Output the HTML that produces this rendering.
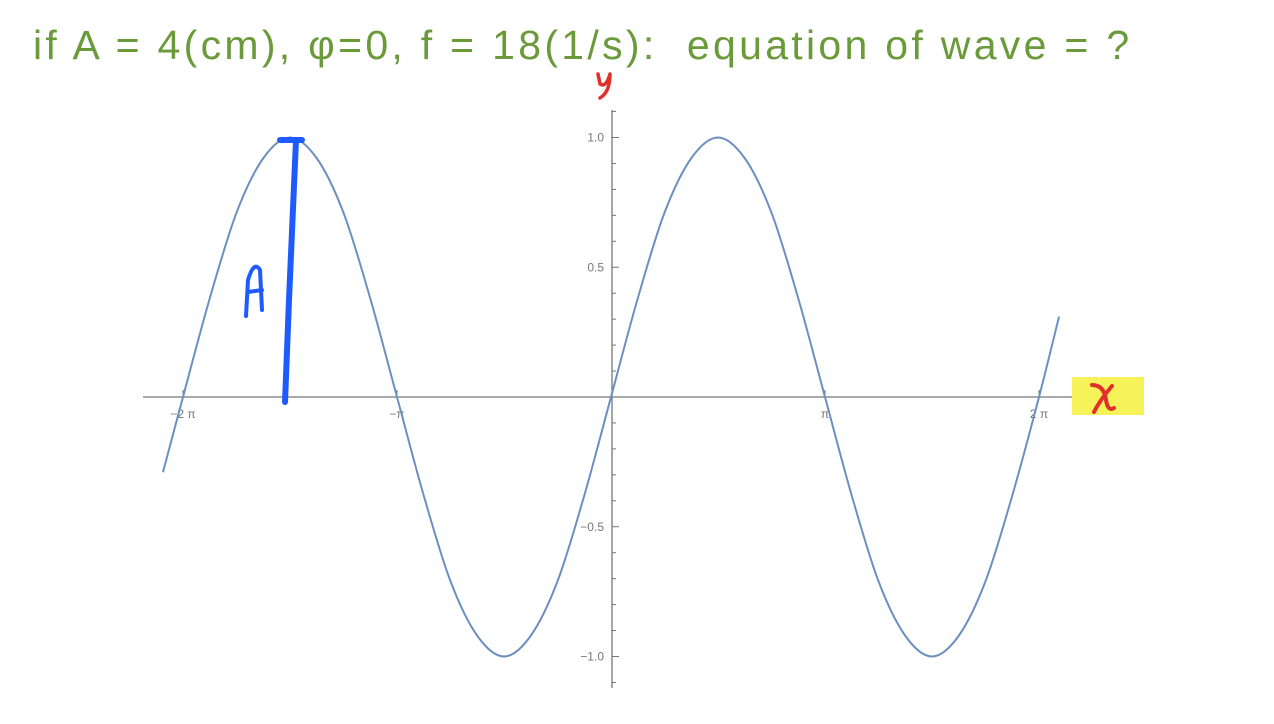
<!DOCTYPE html>
<html><head><meta charset="utf-8"><style>
body{margin:0;width:1274px;height:724px;background:#fff;overflow:hidden;font-family:"Liberation Sans",sans-serif}
#title{position:absolute;left:33px;top:22px;font-size:41px;color:#6a9a3a;letter-spacing:3.3px;white-space:nowrap}
svg{position:absolute;left:0;top:0}
</style></head><body>
<div id="title">if A = 4(cm), φ=0, f = 18(1/s):&nbsp; equation of wave = ?</div>
<svg id="c" width="1274" height="724"></svg>
<script>
// sample positions in units of π/8, and values
const xSteps=[-16.75,-16,-15,-14,-13,-12,-11,-10,-9,-8,-7,-6,-5,-4,-3,-2,-1,0,1,2,3,4,5,6,7,8,9,10,11,12,13,14,15,16,16.75];
const yVals=[-0.29,0,0.38,0.71,0.92,1,0.92,0.71,0.38,0,-0.38,-0.71,-0.92,-1,-0.92,-0.71,-0.38,0,0.38,0.71,0.92,1,0.92,0.71,0.38,0,-0.38,-0.71,-0.92,-1,-0.92,-0.71,-0.38,0,0.31];
const xTickVals=[-2,-1,1,2];
const xTickLabels=["−2 π","−π","π","2 π"];
const yTickVals=[1,0.5,-0.5,-1];
const yTickLabels=["1.0","0.5","−0.5","−1.0"];
const ox=611,oy=397,piPx=214,unitY=259.5;
const X=v=>ox+v*piPx; // v in multiples of π
const Y=v=>oy-v*unitY;
const svg=document.getElementById('c');
const NS='http://www.w3.org/2000/svg';
function el(t,a){const e=document.createElementNS(NS,t);for(const k in a)e.setAttribute(k,a[k]);svg.appendChild(e);return e;}
let e=el('line',{x1:143,y1:oy,x2:1080,y2:oy,stroke:'#777','stroke-width':1.3});

e=el('line',{x1:612,y1:110,x2:612,y2:688,stroke:'#777','stroke-width':1.3});

for(let i=-11;i<=11;i++){const y=Y(i/10);if(i===0)continue;
 const major=i%5===0;const t=el('line',{x1:612,y1:y,x2:612+(major?7:4),y2:y,stroke:'#777','stroke-width':1});
 }
xTickVals.forEach((v,i)=>{const t=el('line',{x1:X(v),y1:oy,x2:X(v),y2:oy-7,stroke:'#777','stroke-width':1});
 
 const l=el('text',{x:X(v),y:oy+21,'font-size':12,fill:'#777','text-anchor':'middle','font-family':'Liberation Sans, sans-serif'});l.textContent=xTickLabels[i];
 });
yTickVals.forEach((v,i)=>{const l=el('text',{x:604,y:Y(v)+4,'font-size':12,fill:'#777','text-anchor':'end','font-family':'Liberation Sans, sans-serif'});l.textContent=yTickLabels[i];
 });
// curve: Catmull-Rom through sampled points
const pts=xSteps.map((s,i)=>[X(s/8),Y(yVals[i])]);
let d='M'+pts[0][0]+','+pts[0][1];
for(let i=0;i<pts.length-1;i++){const p0=pts[Math.max(0,i-1)],p1=pts[i],p2=pts[i+1],p3=pts[Math.min(pts.length-1,i+2)];
 d+=' C'+(p1[0]+(p2[0]-p0[0])/6)+','+(p1[1]+(p2[1]-p0[1])/6)+' '+(p2[0]-(p3[0]-p1[0])/6)+','+(p2[1]-(p3[1]-p1[1])/6)+' '+p2[0]+','+p2[1];}
e=el('path',{d:d,fill:'none',stroke:'#6d8fbf','stroke-width':2});

// annotations
e=el('rect',{x:1072,y:377,width:72,height:38,fill:'#f5f25a'});

e=el('path',{d:'M1092,385 Q1104,385 1106,400 Q1108,412 1114,408 M1112,386 Q1100,400 1094,412',stroke:'#e0302a','stroke-width':4,'stroke-linecap':'round',fill:'none'});

e=el('path',{d:'M598,74 L600,84 Q606,88 610,74 M610,74 Q610,92 600,98',stroke:'#e0302a','stroke-width':3.5,'stroke-linecap':'round',fill:'none'});

e=el('path',{d:'M285,402 L289,300 L296,140 M280,140 L302,140',stroke:'#1e5bff','stroke-width':6,'stroke-linecap':'round',fill:'none'});

e=el('path',{d:'M246,316 L248,280 Q254,260 260,270 L262,310 M248,292 L262,290',stroke:'#1e5bff','stroke-width':4,'stroke-linecap':'round',fill:'none'});

</script>
</body></html>
